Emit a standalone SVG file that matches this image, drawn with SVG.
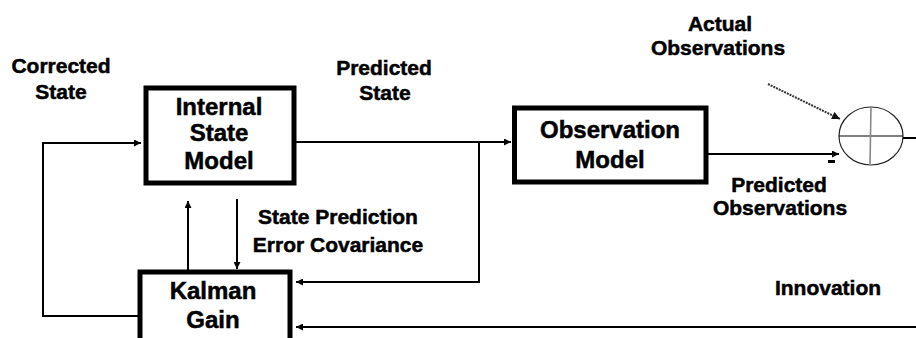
<svg xmlns="http://www.w3.org/2000/svg" width="916" height="338" viewBox="0 0 916 338">
  <style>
    .box { fill: #fff; stroke: #000; stroke-width: 5; }
    .wire { fill: none; stroke: #000; stroke-width: 2; }
    .t { font-family: "Liberation Sans", Arial, sans-serif; font-weight: bold; fill: #000; stroke: #000; stroke-width: 0.5; text-anchor: middle; }
    .lbl { font-size: 21px; }
    .big { font-size: 24px; }
  </style>
  <defs>
    <marker id="arr" viewBox="0 0 10 10" refX="10" refY="5" markerWidth="9" markerHeight="7" markerUnits="userSpaceOnUse" orient="auto">
      <path d="M0,0 L10,5 L0,10 z" fill="#000"/>
    </marker>
    <marker id="arrGray" viewBox="0 0 10 10" refX="10" refY="5" markerWidth="10" markerHeight="8" markerUnits="userSpaceOnUse" orient="auto">
      <path d="M0,0 L10,5 L0,10 z" fill="#111"/>
    </marker>
  </defs>

  <rect width="916" height="338" fill="#fff"/>

  <!-- connectors -->
  <g id="connectors">
    <!-- predicted state to observation model -->
    <line class="wire" x1="296" y1="142" x2="511" y2="142" marker-end="url(#arr)"/>
    <!-- predicted state branch down to Kalman gain -->
    <polyline class="wire" points="479,142 479,282 296,282" marker-end="url(#arr)"/>
    <!-- corrected state feedback loop -->
    <polyline class="wire" points="138,316 43,316 43,143 141,143" marker-end="url(#arr)"/>
    <!-- Kalman gain up to internal state model -->
    <line class="wire" x1="188" y1="270" x2="188" y2="201" marker-end="url(#arr)"/>
    <!-- state prediction error covariance down -->
    <line class="wire" x1="237" y1="199" x2="237" y2="269" marker-end="url(#arr)"/>
    <!-- predicted observations into the summing junction -->
    <line class="wire" x1="708" y1="154" x2="839" y2="154" marker-end="url(#arr)"/>
    <!-- actual observations into the summing junction -->
    <line x1="768" y1="84" x2="840" y2="119" stroke="#333" stroke-width="2" stroke-dasharray="2,1" marker-end="url(#arrGray)"/>
    <!-- innovation back to Kalman gain -->
    <polyline class="wire" points="903,138 916,138"/>
    <line class="wire" x1="916" y1="327" x2="296" y2="327" marker-end="url(#arr)"/>
    <!-- minus sign -->
    <rect x="828" y="160" width="7" height="3" fill="#000"/>
  </g>

  <g id="internal-state-model">
    <rect class="box" x="146" y="88" width="148" height="95"/>
    <text class="t big" x="219" y="115">Internal</text>
    <text class="t big" x="219" y="141">State</text>
    <text class="t big" x="219" y="169">Model</text>
  </g>

  <g id="observation-model">
    <rect class="box" x="514.5" y="108" width="191.5" height="74"/>
    <text class="t big" x="610" y="138">Observation</text>
    <text class="t big" x="610" y="168">Model</text>
  </g>

  <g id="kalman-gain">
    <rect class="box" x="140" y="272" width="150" height="80"/>
    <text class="t big" x="213" y="299">Kalman</text>
    <text class="t big" x="213" y="328">Gain</text>
  </g>

  <g id="summing-junction">
    <ellipse cx="871" cy="136" rx="32" ry="29" fill="#fff" stroke="#222" stroke-width="1.2"/>
    <line x1="839" y1="136" x2="903" y2="136" stroke="#000" stroke-width="1.2"/>
    <line x1="871" y1="107" x2="870" y2="165" stroke="#888" stroke-width="1.6"/>
  </g>

  <g id="labels">
    <text class="t lbl" x="61" y="73">Corrected</text>
    <text class="t lbl" x="61" y="99">State</text>
    <text class="t lbl" x="384" y="75">Predicted</text>
    <text class="t lbl" x="385" y="100">State</text>
    <text class="t lbl" x="720" y="31">Actual</text>
    <text class="t lbl" x="718" y="55">Observations</text>
    <text class="t lbl" x="779" y="192">Predicted</text>
    <text class="t lbl" x="780" y="215">Observations</text>
    <text class="t lbl" x="338" y="224">State Prediction</text>
    <text class="t lbl" x="338" y="252">Error Covariance</text>
    <text class="t lbl" x="828" y="295">Innovation</text>
  </g>
</svg>
